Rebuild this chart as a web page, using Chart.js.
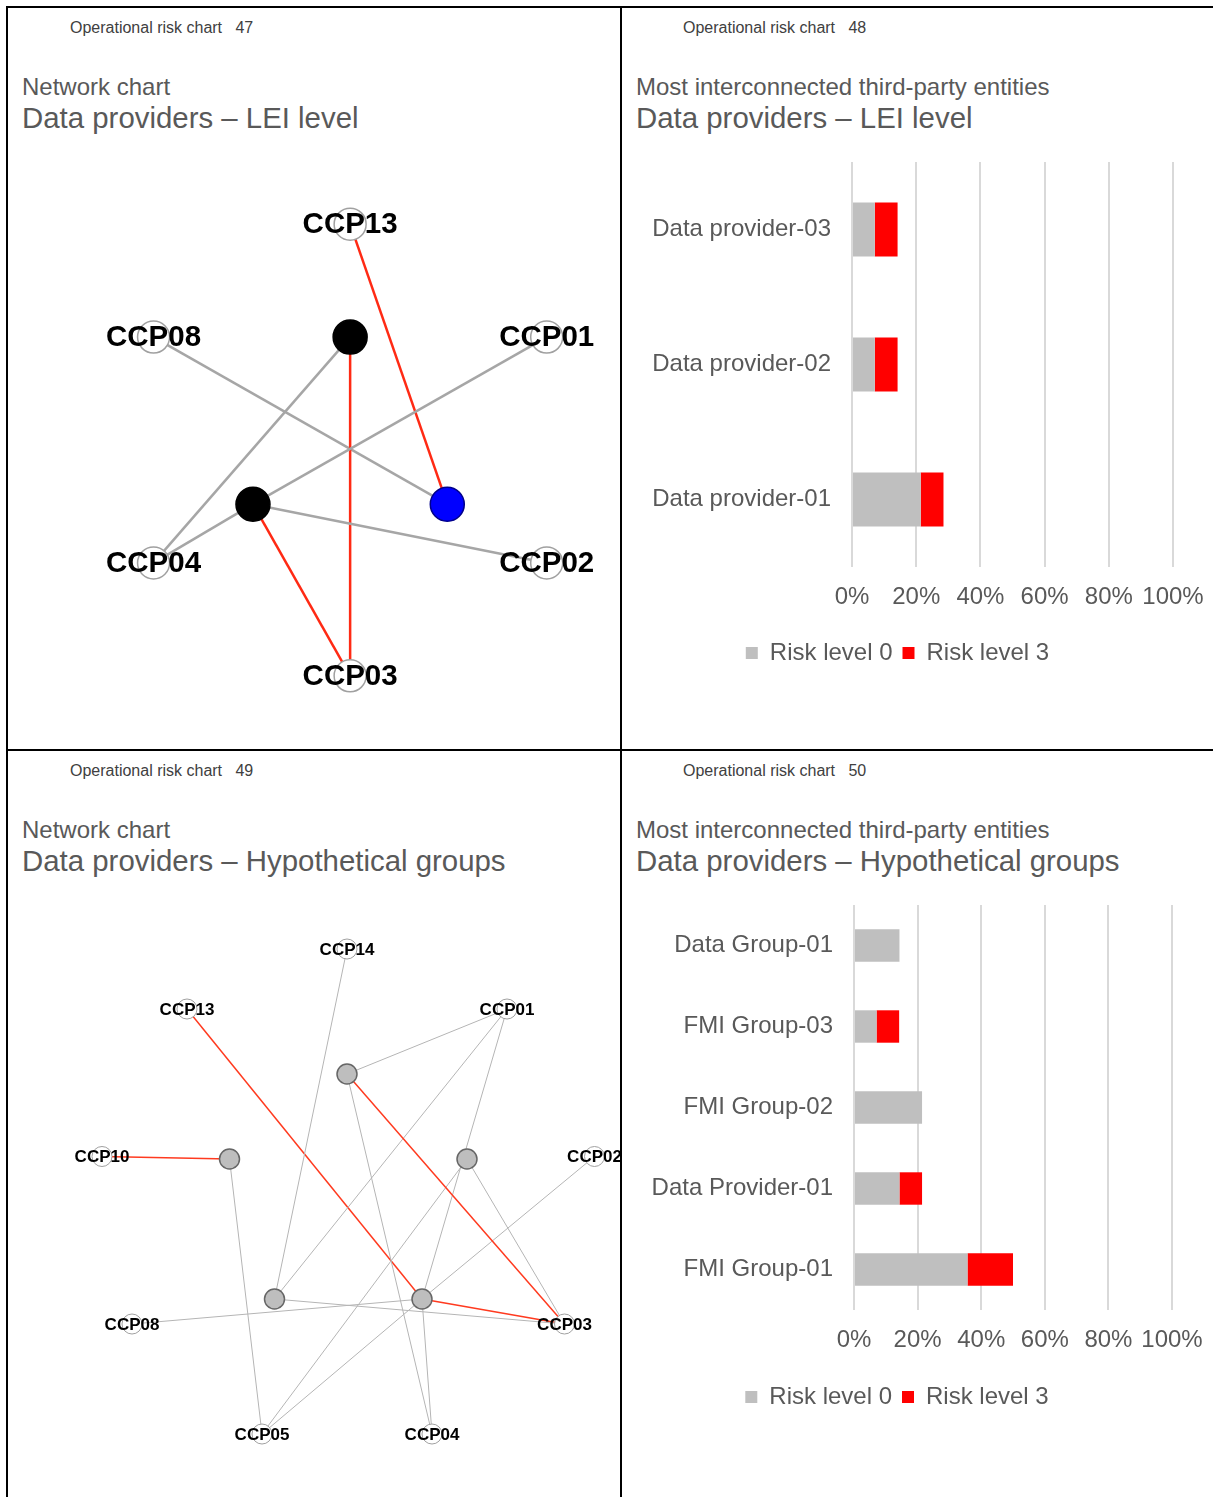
<!DOCTYPE html>
<html><head><meta charset="utf-8">
<script src="https://cdn.jsdelivr.net/npm/chart.js@4/dist/chart.umd.min.js"></script>
<style>
html,body{margin:0;padding:0;background:#fff;}
body{width:1213px;height:1497px;position:relative;overflow:hidden;font-family:"Liberation Sans",Arial,sans-serif;}
.ln{position:absolute;background:#000;}
.t{position:absolute;white-space:pre;line-height:1;color:#595959;}
.hd{font-size:16px;color:#404040;}
.ti{font-size:24px;}
.st{font-size:29.4px;}
canvas{position:absolute;}
</style></head><body>
<div class="ln" style="left:6px;top:6px;width:1207px;height:2px"></div>
<div class="ln" style="left:6px;top:6px;width:2px;height:1491px"></div>
<div class="ln" style="left:620px;top:6px;width:2px;height:1491px"></div>
<div class="ln" style="left:6px;top:749px;width:1207px;height:2px"></div>

<div class="t hd" style="left:70px;top:20px">Operational risk chart   47</div>
<div class="t ti" style="left:22px;top:75px">Network chart</div>
<div class="t st" style="left:22px;top:103px">Data providers – LEI level</div>

<div class="t hd" style="left:683px;top:20px">Operational risk chart   48</div>
<div class="t ti" style="left:636px;top:75px">Most interconnected third-party entities</div>
<div class="t st" style="left:636px;top:103px">Data providers – LEI level</div>

<div class="t hd" style="left:70px;top:763px">Operational risk chart   49</div>
<div class="t ti" style="left:22px;top:818px">Network chart</div>
<div class="t st" style="left:22px;top:846px">Data providers – Hypothetical groups</div>

<div class="t hd" style="left:683px;top:763px">Operational risk chart   50</div>
<div class="t ti" style="left:636px;top:818px">Most interconnected third-party entities</div>
<div class="t st" style="left:636px;top:846px">Data providers – Hypothetical groups</div>

<canvas id="net1" width="540" height="542" style="left:79px;top:179px"></canvas>
<canvas id="bar1" width="599" height="553" style="left:622px;top:122px"></canvas>
<canvas id="net2" width="573" height="598" style="left:47px;top:899px"></canvas>
<canvas id="bar2" width="598" height="554" style="left:622px;top:865px"></canvas>

<script>
// ---------- Chart 47: network, LEI level ----------
const net1CcpNames = ['CCP13', 'CCP01', 'CCP02', 'CCP03', 'CCP04', 'CCP08'];
const net1CcpX = [0.00, 0.87, 0.87, 0.00, -0.87, -0.87];
const net1CcpY = [1.00, 0.50, -0.50, -1.00, -0.50, 0.50];
const net1ProvNames = ['Data provider-01', 'Data provider-02', 'Data provider-03'];
const net1ProvX = [-0.43, 0.00, 0.43];
const net1ProvY = [-0.24, 0.50, -0.24];
const net1ProvColors = ['#000000', '#000000', '#0000ff'];
const net1ProvBorders = ['#000000', '#000000', '#00008b'];
const net1EdgeFrom = ['Data provider-01', 'Data provider-01', 'Data provider-01', 'Data provider-01',
                      'Data provider-02', 'Data provider-02', 'Data provider-03', 'Data provider-03'];
const net1EdgeTo = ['CCP03', 'CCP01', 'CCP04', 'CCP02', 'CCP03', 'CCP04', 'CCP13', 'CCP08'];
const net1EdgeRisk = [3, 0, 0, 0, 3, 0, 3, 0];

// ---------- Chart 48: bars, LEI level ----------
const bar1Labels = ['Data provider-03', 'Data provider-02', 'Data provider-01'];
const bar1Risk0 = [7.1, 7.1, 21.4];
const bar1Risk3 = [7.1, 7.1, 7.1];

// ---------- Chart 49: network, hypothetical groups ----------
const net2CcpNames = ['CCP14', 'CCP13', 'CCP01', 'CCP10', 'CCP02', 'CCP08', 'CCP03', 'CCP05', 'CCP04'];
const net2CcpX = [0.00, -0.64, 0.64, -0.98, 0.99, -0.86, 0.87, -0.34, 0.34];
const net2CcpY = [1.00, 0.76, 0.76, 0.17, 0.17, -0.50, -0.50, -0.94, -0.94];
const net2ProvNames = ['Data Provider-01', 'FMI Group-03', 'Data Group-01', 'FMI Group-02', 'FMI Group-01'];
const net2ProvX = [0.00, -0.47, 0.48, -0.29, 0.30];
const net2ProvY = [0.50, 0.16, 0.16, -0.40, -0.40];
const net2EdgeFrom = ['FMI Group-03', 'FMI Group-03',
                      'Data Provider-01', 'Data Provider-01', 'Data Provider-01',
                      'Data Group-01', 'Data Group-01',
                      'FMI Group-02', 'FMI Group-02', 'FMI Group-02',
                      'FMI Group-01', 'FMI Group-01', 'FMI Group-01', 'FMI Group-01', 'FMI Group-01', 'FMI Group-01', 'FMI Group-01'];
const net2EdgeTo = ['CCP10', 'CCP05',
                    'CCP03', 'CCP01', 'CCP04',
                    'CCP05', 'CCP03',
                    'CCP14', 'CCP01', 'CCP03',
                    'CCP13', 'CCP03', 'CCP08', 'CCP02', 'CCP05', 'CCP04', 'CCP01'];
const net2EdgeRisk = [3, 0, 3, 0, 0, 0, 0, 0, 0, 0, 3, 3, 0, 0, 0, 0, 0];

// ---------- Chart 50: bars, hypothetical groups ----------
const bar2Labels = ['Data Group-01', 'FMI Group-03', 'FMI Group-02', 'Data Provider-01', 'FMI Group-01'];
const bar2Risk0 = [14.3, 7.1, 21.4, 14.3, 35.7];
const bar2Risk3 = [0, 7.1, 0, 7.1, 14.3];

const seriesNames = ['Risk level 0', 'Risk level 3'];

Chart.defaults.font.family = "'Liberation Sans', Arial, sans-serif";
Chart.defaults.color = '#595959';

const labelPlugin = {
  id: 'nodeLabels',
  afterDatasetsDraw(chart) {
    const o = chart.options.plugins.nodeLabels;
    if (!o) return;
    const ctx = chart.ctx;
    const ds = chart.data.datasets[0];
    ctx.save();
    ctx.font = 'bold ' + o.size + "px 'Liberation Sans', Arial, sans-serif";
    ctx.fillStyle = '#000';
    ctx.textAlign = 'center';
    ctx.textBaseline = 'middle';
    ds.data.forEach(p => {
      const px = chart.scales.x.getPixelForValue(p.x);
      const py = chart.scales.y.getPixelForValue(p.y);
      ctx.fillText(p.name, px, py + o.dy);
    });
    ctx.restore();
  }
};

function makeNetwork(id, c) {
  const pos = {};
  const outer = c.ccpNames.map((n, i) => ({x: c.ccpX[i], y: c.ccpY[i], name: n}));
  const inner = c.provNames.map((n, i) => ({x: c.provX[i], y: c.provY[i], name: n}));
  outer.concat(inner).forEach(p => pos[p.name] = p);
  const edges = c.edgeFrom.map((f, i) => {
    const a = pos[f], b = pos[c.edgeTo[i]];
    const red = c.edgeRisk[i] === 3;
    return {
      type: 'scatter', showLine: true,
      data: [{x: a.x, y: a.y}, {x: b.x, y: b.y}],
      borderColor: red ? c.redColor : c.grayColor,
      borderWidth: red ? c.redWidth : c.grayWidth,
      pointRadius: 0, fill: false, clip: false, order: 3
    };
  });
  new Chart(document.getElementById(id), {
    type: 'scatter',
    data: {
      datasets: [
        {data: outer, pointRadius: c.outerR, backgroundColor: '#ffffff', borderColor: c.outerBorder,
         borderWidth: c.outerBW, clip: false, order: 1},
        {data: inner, pointRadius: c.innerR, backgroundColor: c.innerFill, borderColor: c.innerBorder,
         borderWidth: c.innerBW, clip: false, order: 0},
        ...edges
      ]
    },
    options: {
      responsive: false, animation: false, events: [],
      layout: {padding: 0, autoPadding: false},
      plugins: {legend: {display: false}, tooltip: {enabled: false}, nodeLabels: {size: c.fontSize, dy: c.dy}},
      scales: {
        x: {type: 'linear', display: false, min: c.xMin, max: c.xMax},
        y: {type: 'linear', display: false, min: c.yMin, max: c.yMax}
      }
    },
    plugins: [labelPlugin]
  });
}

makeNetwork('net1', {
  ccpNames: net1CcpNames, ccpX: net1CcpX, ccpY: net1CcpY,
  provNames: net1ProvNames, provX: net1ProvX, provY: net1ProvY,
  edgeFrom: net1EdgeFrom, edgeTo: net1EdgeTo, edgeRisk: net1EdgeRisk,
  innerFill: net1ProvColors, innerBorder: net1ProvBorders, innerBW: 1.5, innerR: 17,
  outerR: 16, outerBorder: '#a0a0a0', outerBW: 1.5,
  redColor: '#ff2a14', grayColor: '#a6a6a6', redWidth: 2.5, grayWidth: 2.5,
  fontSize: 29.5, dy: 1,
  xMin: -1.2, xMax: 1.19, yMin: -1.2, yMax: 1.2
});

makeNetwork('net2', {
  ccpNames: net2CcpNames, ccpX: net2CcpX, ccpY: net2CcpY,
  provNames: net2ProvNames, provX: net2ProvX, provY: net2ProvY,
  edgeFrom: net2EdgeFrom, edgeTo: net2EdgeTo, edgeRisk: net2EdgeRisk,
  innerFill: '#bebebe', innerBorder: '#666666', innerBW: 1.5, innerR: 10,
  outerR: 10, outerBorder: '#a0a0a0', outerBW: 1,
  redColor: '#ff3a1f', grayColor: '#b5b5b5', redWidth: 1.5, grayWidth: 1,
  fontSize: 17, dy: 1,
  xMin: -1.2, xMax: 1.092, yMin: -1.192, yMax: 1.2
});

function makeBars(id, labels, r0, r3, yWidth, xHeight) {
  new Chart(document.getElementById(id), {
    type: 'bar',
    data: {
      labels: labels,
      datasets: [
        {label: seriesNames[0], data: r0, backgroundColor: '#bfbfbf', borderWidth: 0,
         barPercentage: 0.5, categoryPercentage: 0.8},
        {label: seriesNames[1], data: r3, backgroundColor: '#ff0000', borderWidth: 0,
         barPercentage: 0.5, categoryPercentage: 0.8}
      ]
    },
    options: {
      indexAxis: 'y', responsive: false, animation: false, events: [],
      layout: {padding: {top: 40, right: 48, left: 0, bottom: 0}},
      plugins: {
        tooltip: {enabled: false},
        legend: {
          position: 'bottom',
          labels: {boxWidth: 12, boxHeight: 12, padding: 10, color: '#595959', font: {size: 24}}
        }
      },
      scales: {
        x: {
          stacked: true, min: 0, max: 100,
          grid: {color: '#d9d9d9', lineWidth: 2, drawTicks: false},
          border: {display: false},
          ticks: {stepSize: 20, padding: 16, color: '#595959', font: {size: 24},
                  maxRotation: 0, minRotation: 0, autoSkip: false,
                  callback: v => v + '%'},
          afterFit: s => { s.height = xHeight; }
        },
        y: {
          stacked: true,
          grid: {display: false, drawTicks: false},
          border: {display: false},
          ticks: {padding: 21, color: '#595959', font: {size: 24}},
          afterFit: s => { s.width = yWidth; }
        }
      }
    }
  });
}

makeBars('bar1', bar1Labels, bar1Risk0, bar1Risk3, 230, 64);
makeBars('bar2', bar2Labels, bar2Risk0, bar2Risk3, 232, 65);
</script>
</body></html>
